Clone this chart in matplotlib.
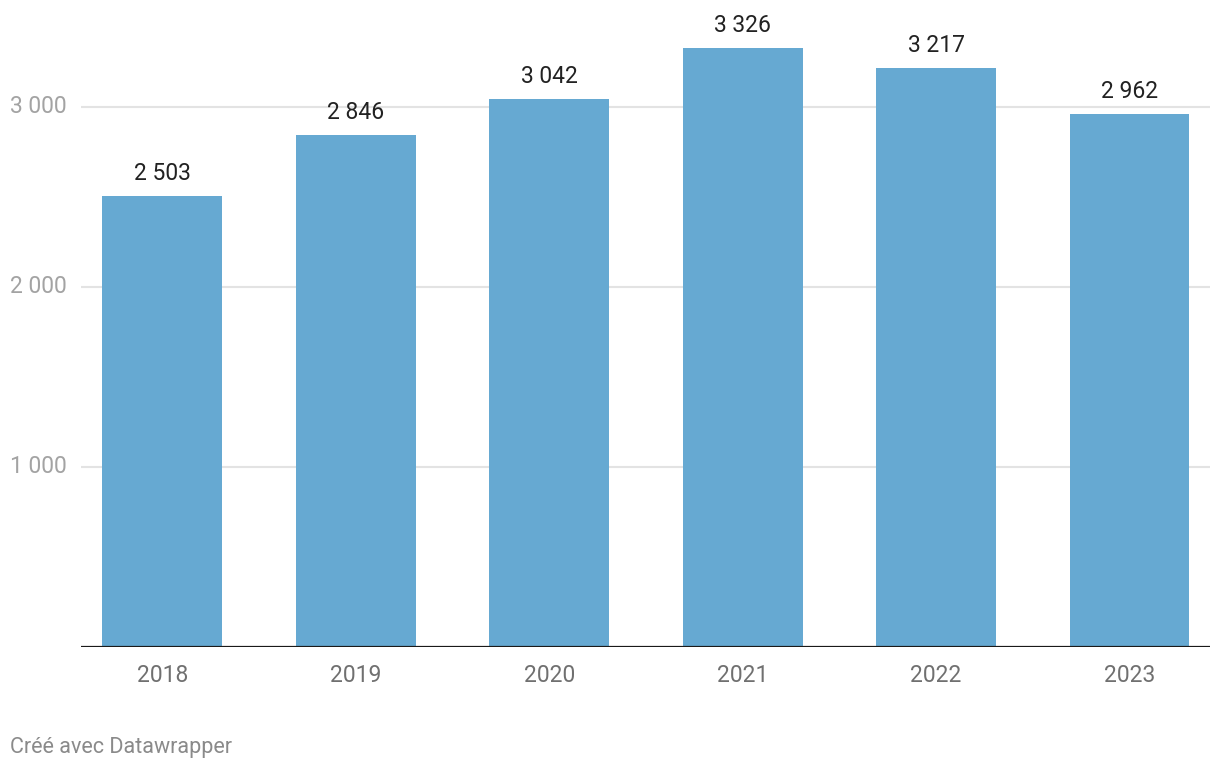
import matplotlib
matplotlib.use('agg')
import matplotlib.pyplot as plt

years = ['2018', '2019', '2020', '2021', '2022', '2023']
values = [2503, 2846, 3042, 3326, 3217, 2962]
yticks = [1000, 2000, 3000]


def fmt(v):
    return "{:,}".format(v).replace(",", " ")


plt.rcParams['font.family'] = ['Roboto', 'DejaVu Sans']

fig = plt.figure(figsize=(12.2, 7.7), dpi=100)
ax = fig.add_axes([81 / 1220, 1 - 647 / 770, 1129 / 1220, 647 / 770])

x = list(range(len(years)))
bars = ax.bar(x, values, width=0.62, color='#66a9d2', zorder=2)

ax.set_xlim(-0.421, 5.416)
ax.set_ylim(0, 3594)

# gridlines + left aligned tick labels
for t in yticks:
    ax.axhline(t, color='#e3e3e3', lw=1.5, zorder=1)
    ax.text(-0.063, t, fmt(t), transform=ax.get_yaxis_transform(),
            ha='left', va='center', fontsize=16.5, color='#a3a3a3')
ax.axhline(0, color='#1a1a1a', lw=1.6, zorder=3)

for b, v in zip(bars, values):
    ax.annotate(fmt(v), (b.get_x() + b.get_width() / 2, v),
                xytext=(0, 8), textcoords='offset points',
                ha='center', va='bottom', fontsize=16.5, color='#222222')

ax.set_xticks(x)
ax.set_xticklabels(years, fontsize=16.5, color='#707070')
ax.tick_params(axis='x', length=0, pad=12.5)
ax.set_yticks([])
for s in ax.spines.values():
    s.set_visible(False)

fig.text(10 / 1220, 1 - 747 / 770, "Créé avec Datawrapper", ha='left', va='center',
         fontsize=15.5, color='#8a8a8a')

fig.savefig('out.png', dpi=100, facecolor='white')
